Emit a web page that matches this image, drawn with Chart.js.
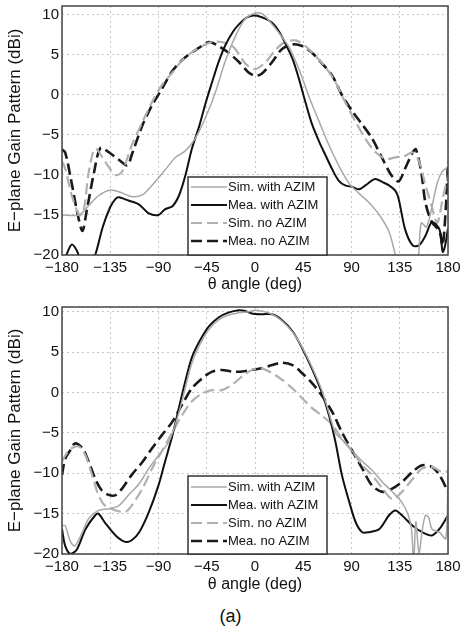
<!DOCTYPE html>
<html>
<head>
<meta charset="utf-8">
<script src="https://cdn.jsdelivr.net/npm/chart.js@4.4.1/dist/chart.umd.min.js"></script>
<style>
  body { margin: 0; background: #fff; }
  #wrap { position: relative; width: 461px; height: 628px; }
  .plot { position: absolute; left: 0; width: 461px; }
  #caption { position: absolute; left: 0; width: 461px; top: 606px; text-align: center;
    font: 18px "Liberation Sans", Arial, sans-serif; color: #111; }
</style>
</head>
<body>
<div id="wrap">
  <div class="plot" style="top:0;height:296px"><canvas id="top-plot"></canvas></div>
  <div class="plot" style="top:298px;height:298px"><canvas id="bottom-plot"></canvas></div>
  <div id="caption">(a)</div>
</div>
<script>
// axis ticks
const angleTicks = [-180, -135, -90, -45, 0, 45, 90, 135, 180];
const gainTicks = [-20, -15, -10, -5, 0, 5, 10];
const seriesNames = ['Sim. with AZIM', 'Mea. with AZIM', 'Sim. no AZIM', 'Mea. no AZIM'];

// upper plot
const topSimAzimAngle = [-180, -164, -155, -146, -136, -127, -115, -105, -96, -84, -74, -65, -56, -46, -37, -28, -18, -9, 0, 7, 13, 22, 32, 41, 50, 60, 69, 78, 88, 97, 106, 116, 125, 131, 136, 150, 155, 160, 165, 170, 175, 180];
const topSimAzimGain = [-15, -15, -13.8, -12.6, -11.9, -12.1, -12.7, -12.5, -11.3, -9.4, -7.8, -7.0, -5.5, -2.8, 0.3, 4.1, 7.4, 9.5, 10.2, 10.1, 9.3, 7.8, 5.9, 3.2, -0.1, -3.4, -6.3, -8.8, -11.1, -12.3, -13.4, -15, -17.1, -20, -22, -22, -16, -16.5, -14, -11, -9.5, -9];

const topMeaAzimAngle = [-180, -176, -171, -166, -162, -156, -149, -142, -135, -130, -127, -118, -108, -99, -90, -84, -77, -71, -65, -59, -52, -46, -40, -34, -28, -21, -15, -7, 0, 10, 16, 22, 28, 35, 41, 47, 53, 60, 66, 72, 78, 84, 91, 97, 103, 112, 119, 125, 131, 134, 140, 147, 153, 159, 165, 172, 175, 177, 180];
const topMeaAzimGain = [-21, -20, -18.7, -19.5, -21, -22, -20, -16.5, -14, -13, -12.8, -13.2, -13.7, -14.8, -15, -14.3, -13.9, -12.6, -10.1, -6.8, -3.9, -1.0, 1.6, 4.1, 6.1, 7.8, 8.8, 9.7, 9.9, 9.5, 9.0, 8.0, 6.5, 4.5, 2.0, -0.9, -3.6, -5.9, -7.6, -9.3, -10.7, -11.3, -11.5, -11.8, -11.3, -10.5, -10.9, -11.3, -12.0, -13, -16.8, -18.8, -18.8, -17.6, -15.9, -16.8, -19.6, -19, -16.7];

const topSimNoAngle = [-180, -177, -171, -164, -160, -155, -149, -140, -130, -124, -115, -105, -96, -87, -77, -68, -59, -49, -40, -31, -21, -15, -9, 0, 10, 19, 28, 38, 47, 56, 66, 75, 84, 94, 103, 112, 122, 131, 140, 147, 153, 159, 165, 170, 175, 180];
const topSimNoGain = [-8.3, -9.2, -12.5, -15, -14.6, -9.6, -6.7, -8.3, -10.0, -9.6, -6.3, -3.4, -0.9, 1.2, 2.8, 4.3, 5.3, 6.1, 6.6, 6.6, 6.1, 5.1, 3.9, 3.2, 4.1, 5.6, 6.6, 6.8, 6.1, 4.9, 3.4, 1.6, -0.9, -3.4, -5.5, -7.1, -8.0, -7.8, -7.6, -7.2, -8.3, -11.3, -14, -16, -13, -10];

const topMeaNoAngle = [-180, -177, -172, -166, -161, -157, -150, -144, -136, -127, -119, -115, -105, -96, -87, -77, -65, -52, -43, -34, -25, -15, -6, 0, 6, 16, 25, 35, 44, 53, 62, 72, 81, 91, 100, 109, 119, 127, 134, 140, 147, 150, 155, 159, 165, 172, 175, 178, 180];
const topMeaNoGain = [-6.8, -7.2, -10.3, -14.5, -17.0, -14.5, -9.6, -6.6, -7.2, -8.1, -8.8, -7.5, -3.8, -1.3, 0.7, 3.0, 4.7, 5.9, 6.6, 6.1, 5.3, 4.1, 2.8, 2.4, 2.6, 4.1, 5.7, 6.3, 6.1, 5.3, 4.0, 2.4, 0.0, -2.1, -3.7, -5.4, -8.0, -10.0, -10.8, -9.2, -7.2, -6.8, -9.6, -13.5, -15.9, -17, -18.8, -14, -8.4];

// lower plot
const botSimAzimAngle = [-180, -177, -172, -168, -161, -155, -146, -136, -127, -118, -108, -99, -90, -80, -71, -65, -59, -52, -43, -34, -25, -15, -6, 0, 6, 16, 25, 35, 44, 53, 62, 69, 75, 81, 91, 100, 109, 119, 128, 137, 143, 146, 148, 150, 153, 156, 159, 162, 165, 172, 178, 180];
const botSimAzimGain = [-16.5, -16.5, -18.5, -19, -17.3, -15.6, -14.6, -14.4, -14.0, -12.7, -11.3, -9.4, -7.8, -6.0, -2.5, 0.6, 3.6, 5.8, 7.8, 9.0, 9.6, 9.9, 10.0, 10.2, 10.1, 9.7, 8.9, 7.5, 5.6, 3.2, 0.4, -2.5, -5.0, -5.8, -7.3, -8.5, -9.6, -11.1, -12.3, -13.6, -15.2, -17, -21, -16, -20, -17, -15.2, -15.5, -16.9, -17.3, -18.1, -9.5];

const botMeaAzimAngle = [-180, -177, -172, -166, -158, -149, -146, -140, -130, -121, -115, -108, -99, -90, -84, -77, -71, -65, -59, -52, -43, -34, -25, -15, -9, -3, 6, 16, 25, 35, 44, 53, 62, 69, 75, 81, 88, 94, 100, 106, 116, 125, 131, 137, 147, 156, 165, 172, 180];
const botMeaAzimGain = [-16.9, -19, -20, -19.4, -16.9, -15.2, -15.0, -16.1, -17.7, -18.5, -18.3, -17.3, -14.8, -11.5, -8.6, -5.3, -1.9, 1.4, 4.3, 6.3, 8.2, 9.3, 9.9, 10.2, 10.1, 9.8, 9.7, 9.7, 9.0, 7.6, 5.5, 3.0, 0.1, -2.8, -6.1, -10.2, -13.6, -16.1, -17.3, -17.3, -16.9, -15.2, -14.6, -15.2, -16.5, -17.3, -17.7, -16.9, -15.2];

const botSimNoAngle = [-180, -177, -171, -164, -158, -152, -146, -140, -130, -121, -115, -105, -96, -87, -77, -68, -59, -49, -40, -31, -21, -12, -3, 6, 16, 25, 35, 44, 53, 62, 72, 81, 91, 100, 109, 119, 128, 137, 147, 156, 165, 174, 180];
const botSimNoGain = [-8.6, -7.8, -6.9, -6.7, -7.8, -10.2, -12.7, -14.0, -14.6, -14.8, -14.0, -11.9, -9.4, -7.3, -4.9, -2.8, -1.1, -0.1, 0.3, 0.3, 1.0, 2.0, 2.8, 3.0, 2.4, 1.6, 0.5, -0.7, -1.9, -2.8, -4.0, -5.7, -7.3, -9.0, -10.2, -11.9, -13.2, -12.3, -10.7, -9.4, -9.2, -9.8, -9.8];

const botMeaNoAngle = [-180, -177, -172, -168, -161, -155, -149, -143, -136, -130, -124, -115, -105, -96, -87, -77, -68, -59, -49, -40, -31, -21, -12, -3, 6, 16, 25, 35, 44, 53, 62, 72, 81, 91, 100, 109, 119, 128, 137, 147, 156, 165, 172, 180];
const botMeaNoGain = [-10.2, -8.2, -7.1, -6.3, -6.9, -8.6, -10.7, -12.1, -12.7, -12.7, -11.9, -10.2, -8.6, -6.9, -5.3, -3.6, -1.5, 0.5, 1.8, 2.6, 2.8, 2.6, 2.6, 2.8, 3.0, 3.4, 3.7, 3.4, 2.4, 1.2, -0.3, -2.4, -4.9, -7.3, -9.4, -11.5, -12.3, -11.9, -11.1, -9.8, -9.0, -9.2, -10.2, -12.3];

const fontFamily = '"Liberation Sans", Arial, sans-serif';
const lineStyles = [
  { color: '#a8a8a8', width: 1.5, dash: [] },
  { color: '#111111', width: 2, dash: [] },
  { color: '#b0b0b0', width: 2.2, dash: [11, 5] },
  { color: '#1a1a1a', width: 2.6, dash: [11, 5] },
];

const toPoints = (angles, gains) => angles.map((a, i) => ({ x: a, y: gains[i] }));
const minus = (v) => String(v).replace('-', '\u2212');

// box round the plot area, like the matlab axes
const framePlugin = {
  id: 'frame',
  afterDatasetsDraw(c) {
    const { ctx, chartArea: a } = c;
    ctx.save();
    ctx.strokeStyle = '#444';
    ctx.lineWidth = 1.5;
    ctx.strokeRect(a.left, a.top, a.right - a.left, a.bottom - a.top);
    ctx.restore();
  },
};

// legend box sitting on the bottom axis
const boxLegend = {
  id: 'boxLegend',
  afterDatasetsDraw(c, args, opts) {
    const { ctx, chartArea: a } = c;
    const left = a.left + 126;
    const w = 139;
    const h = 78;
    const top = a.bottom - h;
    ctx.save();
    ctx.fillStyle = '#fff';
    ctx.fillRect(left, top, w, h);
    ctx.strokeStyle = '#333';
    ctx.lineWidth = 1.5;
    ctx.strokeRect(left, top, w, h);
    ctx.font = '13px ' + fontFamily;
    ctx.textBaseline = 'middle';
    c.data.datasets.forEach((ds, i) => {
      const y = top + opts.firstRow + i * 18;
      ctx.beginPath();
      ctx.setLineDash(ds.borderDash || []);
      ctx.strokeStyle = ds.borderColor;
      ctx.lineWidth = ds.borderWidth;
      ctx.moveTo(left + 3, y);
      ctx.lineTo(left + 39, y);
      ctx.stroke();
      ctx.setLineDash([]);
      ctx.fillStyle = '#111';
      ctx.fillText(ds.label, left + 40, y);
    });
    ctx.restore();
  },
};

const makePlot = (id, series, yMax, padTop, xAxisHeight, firstRow) => {
  const ctx = document.getElementById(id);
  return new Chart(ctx, {
    type: 'line',
    data: {
      datasets: series.map((pts, i) => ({
        label: seriesNames[i],
        data: pts,
        borderColor: lineStyles[i].color,
        borderWidth: lineStyles[i].width,
        borderDash: lineStyles[i].dash,
        pointRadius: 0,
        tension: 0.3,
        fill: false,
      })),
    },
    options: {
      responsive: true,
      maintainAspectRatio: false,
      animation: false,
      layout: { padding: { top: padTop, right: 13, left: 0, bottom: 0 } },
      scales: {
        x: {
          type: 'linear',
          min: -180,
          max: 180,
          afterBuildTicks: (s) => { s.ticks = angleTicks.map((v) => ({ value: v })); },
          afterFit: (s) => { s.height = xAxisHeight; s.paddingLeft = 0; s.paddingRight = 0; },
          grid: { color: '#c4c4c4', drawTicks: false },
          border: { display: false, dash: [2, 3] },
          ticks: { color: '#111', padding: 4, font: { family: fontFamily, size: 15 }, callback: minus, maxRotation: 0 },
          title: { display: true, text: '\u03b8 angle (deg)', color: '#111', padding: { top: 0, bottom: 2 }, font: { family: fontFamily, size: 16 } },
        },
        y: {
          min: -20,
          max: yMax,
          afterBuildTicks: (s) => { s.ticks = gainTicks.map((v) => ({ value: v })); },
          afterFit: (s) => { s.width = 62; s.paddingTop = 0; s.paddingBottom = 0; },
          grid: { color: '#c4c4c4', drawTicks: false },
          border: { display: false, dash: [2, 3] },
          ticks: { color: '#111', padding: 3, font: { family: fontFamily, size: 15 }, callback: minus },
          title: { display: true, text: 'E\u2212plane Gain Pattern (dBi)', color: '#111', padding: { top: 5, bottom: 0 }, font: { family: fontFamily, size: 17 } },
        },
      },
      plugins: {
        legend: { display: false },
        tooltip: { enabled: false },
        boxLegend: { firstRow: firstRow },
      },
    },
    plugins: [framePlugin, boxLegend],
  });
};

makePlot('top-plot', [
  toPoints(topSimAzimAngle, topSimAzimGain),
  toPoints(topMeaAzimAngle, topMeaAzimGain),
  toPoints(topSimNoAngle, topSimNoGain),
  toPoints(topMeaNoAngle, topMeaNoGain),
], 11.1, 6, 41, 10);

makePlot('bottom-plot', [
  toPoints(botSimAzimAngle, botSimAzimGain),
  toPoints(botMeaAzimAngle, botMeaAzimGain),
  toPoints(botSimNoAngle, botSimNoGain),
  toPoints(botMeaNoAngle, botMeaNoGain),
], 10.6, 9, 42, 11);
</script>
</body>
</html>
